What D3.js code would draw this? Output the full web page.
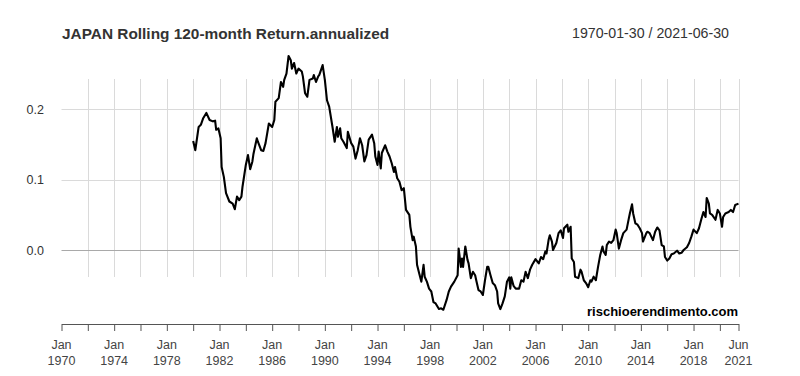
<!DOCTYPE html>
<html>
<head>
<meta charset="utf-8">
<script src="https://cdn.jsdelivr.net/npm/d3@7"></script>
<style>
  body { margin: 0; background: #fff; }
  svg { font-family: 'Liberation Sans', Arial, sans-serif; }
</style>
</head>
<body>
<div id="chart"></div>
<script>

let title = 'JAPAN Rolling 120-month Return.annualized';
let periodLabel = '1970-01-30 / 2021-06-30';
let watermark = 'rischioerendimento.com';

let dates = [
  '1980-01','1980-03','1980-06','1980-08','1980-10','1981-01','1981-04','1981-07','1981-09','1981-10','1981-12',
  '1982-02','1982-03','1982-05','1982-07','1982-10','1983-01','1983-03','1983-05','1983-07','1983-09','1983-10',
  '1984-01','1984-03','1984-05','1984-07','1984-08','1984-11','1984-12','1985-03','1985-05','1985-07','1985-10',
  '1986-01','1986-03','1986-04','1986-07','1986-09','1986-11','1986-12','1987-02','1987-04','1987-06','1987-07',
  '1987-09','1987-11','1988-01','1988-04','1988-05','1988-07','1988-09','1988-11','1989-02','1989-03','1989-05',
  '1989-07','1989-08','1989-11','1990-01','1990-03','1990-05','1990-08','1990-10','1990-12','1991-01','1991-03',
  '1991-04','1991-06','1991-09','1991-10','1992-01','1992-03','1992-05','1992-07','1992-09','1992-11','1993-01',
  '1993-03','1993-05','1993-08','1993-10','1993-11','1994-01','1994-02','1994-04','1994-05','1994-08','1994-10',
  '1994-12','1995-02','1995-04','1995-05','1995-07','1995-09','1995-11','1996-01','1996-03','1996-06','1996-07',
  '1996-09','1996-10','1996-12','1997-01','1997-03','1997-05','1997-07','1997-08','1997-10','1997-12','1998-02',
  '1998-04','1998-06','1998-09','1998-11','1999-01','1999-04','1999-06','1999-08','1999-11','2000-02','2000-03',
  '2000-05','2000-06','2000-07','2000-09','2000-11','2000-12','2001-02','2001-04','2001-06','2001-07','2001-09',
  '2001-11','2002-01','2002-03','2002-05','2002-06','2002-08','2002-10','2002-12','2003-02','2003-03','2003-05',
  '2003-07','2003-09','2003-11','2004-01','2004-02','2004-03','2004-05','2004-07','2004-10','2004-12','2005-02',
  '2005-04','2005-06','2005-08','2005-10','2006-01','2006-04','2006-06','2006-08','2006-10','2006-11','2007-01',
  '2007-02','2007-04','2007-05','2007-08','2007-10','2007-12','2008-02','2008-03','2008-06','2008-07','2008-09',
  '2008-10','2008-12','2009-01','2009-04','2009-06','2009-07','2009-09','2009-11','2010-01','2010-03','2010-04',
  '2010-06','2010-08','2010-10','2010-12','2011-02','2011-03','2011-05','2011-06','2011-08','2011-10','2011-12',
  '2012-02','2012-03','2012-05','2012-07','2012-09','2012-12','2013-02','2013-03','2013-05','2013-06','2013-08',
  '2013-10','2013-12','2014-02','2014-03','2014-06','2014-07','2014-09','2014-12','2015-02','2015-04','2015-06',
  '2015-08','2015-10','2015-11','2016-01','2016-03','2016-05','2016-07','2016-10','2016-12','2017-02','2017-04',
  '2017-07','2017-09','2017-11','2018-01','2018-04','2018-06','2018-08','2018-10','2018-12','2019-01','2019-03',
  '2019-04','2019-06','2019-09','2019-11','2020-01','2020-03','2020-04','2020-06','2020-09','2020-11','2021-01',
  '2021-03','2021-06'
];

let returns = [
  0.155, 0.142, 0.175, 0.178, 0.187, 0.195, 0.185, 0.183, 0.184, 0.171, 0.173,
  0.159, 0.118, 0.104, 0.081, 0.069, 0.066, 0.058, 0.076, 0.071, 0.076, 0.090,
  0.121, 0.135, 0.115, 0.126, 0.137, 0.159, 0.154, 0.142, 0.141, 0.152, 0.180,
  0.175, 0.185, 0.211, 0.216, 0.239, 0.232, 0.242, 0.251, 0.276, 0.270, 0.258,
  0.266, 0.251, 0.258, 0.254, 0.247, 0.223, 0.218, 0.242, 0.244, 0.249, 0.239,
  0.247, 0.249, 0.263, 0.242, 0.213, 0.204, 0.175, 0.154, 0.175, 0.161, 0.173,
  0.159, 0.154, 0.145, 0.168, 0.152, 0.147, 0.130, 0.142, 0.159, 0.149, 0.126,
  0.135, 0.157, 0.164, 0.152, 0.133, 0.121, 0.140, 0.116, 0.138, 0.149, 0.140,
  0.133, 0.123, 0.111, 0.118, 0.102, 0.097, 0.085, 0.088, 0.057, 0.050, 0.033,
  0.014, 0.019, 0.005, -0.021, -0.033, -0.045, -0.021, -0.038, -0.045, -0.055, -0.059,
  -0.074, -0.076, -0.084, -0.083, -0.085, -0.071, -0.059, -0.052, -0.045, -0.036, 0.002,
  -0.024, -0.012, -0.024, 0.005, -0.014, -0.019, -0.040, -0.031, -0.036, -0.043, -0.057,
  -0.059, -0.064, -0.043, -0.024, -0.024, -0.036, -0.047, -0.050, -0.059, -0.076, -0.084,
  -0.076, -0.066, -0.045, -0.039, -0.055, -0.039, -0.051, -0.055, -0.055, -0.043, -0.045,
  -0.031, -0.040, -0.028, -0.021, -0.013, -0.019, -0.010, -0.013, -0.002, -0.005, 0.015,
  0.021, 0.012, 0.000, 0.010, 0.024, 0.028, 0.017, 0.031, 0.036, 0.026, 0.033,
  -0.012, -0.017, -0.038, -0.040, -0.028, -0.031, -0.043, -0.047, -0.053, -0.043, -0.045,
  -0.038, -0.043, -0.024, -0.007, 0.005, -0.002, -0.007, 0.007, 0.012, 0.010, 0.014,
  0.029, 0.024, 0.002, 0.014, 0.024, 0.029, 0.045, 0.052, 0.065, 0.052, 0.038,
  0.036, 0.031, 0.024, 0.012, 0.024, 0.026, 0.024, 0.014, 0.026, 0.032, 0.028,
  0.007, 0.005, -0.010, -0.015, -0.012, -0.006, -0.005, -0.001, -0.005, -0.004, 0.000,
  0.004, 0.010, 0.019, 0.029, 0.024, 0.031, 0.043, 0.054, 0.047, 0.074, 0.066,
  0.052, 0.050, 0.043, 0.057, 0.052, 0.033, 0.047, 0.052, 0.054, 0.057, 0.054,
  0.064, 0.066
];

let yTicks = [0.0, 0.1, 0.2];
let gridYears = [1972, 1974, 1976, 1978, 1980, 1982, 1984, 1986, 1988, 1990, 1992, 1994, 1996,
  1998, 2000, 2002, 2004, 2006, 2008, 2010, 2012, 2014, 2016, 2018, 2020];
let labelYears = [1970, 1974, 1978, 1982, 1986, 1990, 1994, 1998, 2002, 2006, 2010, 2014, 2018];

let width = 800, height = 376;
let parseMonth = d3.timeParse('%Y-%m');
let data = dates.map(function(d, i) { return { date: parseMonth(d), value: returns[i] }; });

let start = new Date(1970, 0, 1);
let end = new Date(2021, 5, 1);

let x = d3.scaleTime().domain([start, end]).range([61.5, 738.5]);
let y = d3.scaleLinear().domain([0, 0.2]).range([250, 109.4]);

let svg = d3.select('#chart').append('svg')
  .attr('width', width)
  .attr('height', height);

// grid
let gridTop = 79, gridBottom = 277;
let vGrid = gridYears.map(function(yr) { return new Date(yr, 0, 1); }).concat([end]);
svg.append('g').selectAll('line')
  .data(vGrid).enter()
  .append('line')
  .attr('x1', function(d) { return Math.round(x(d)) + 0.5; })
  .attr('x2', function(d) { return Math.round(x(d)) + 0.5; })
  .attr('y1', gridTop)
  .attr('y2', gridBottom)
  .attr('stroke', '#dadada')
  .attr('stroke-width', 1);

svg.append('g').selectAll('line')
  .data(yTicks).enter()
  .append('line')
  .attr('x1', x(start))
  .attr('x2', x(end))
  .attr('y1', function(d) { return Math.round(y(d)) + 0.5; })
  .attr('y2', function(d) { return Math.round(y(d)) + 0.5; })
  .attr('stroke', function(d) { return d === 0 ? '#a9a9a9' : '#dadada'; })
  .attr('stroke-width', 1);

// y labels
svg.append('g').selectAll('text')
  .data(yTicks).enter()
  .append('text')
  .attr('x', 44)
  .attr('y', function(d) { return y(d) + 4.5; })
  .attr('text-anchor', 'end')
  .attr('font-size', 12.5)
  .attr('fill', '#333')
  .text(function(d) { return d3.format('.1f')(d); });

// series
let line = d3.line()
  .x(function(d) { return x(d.date); })
  .y(function(d) { return y(d.value); });

svg.append('path')
  .datum(data)
  .attr('fill', 'none')
  .attr('stroke', '#000')
  .attr('stroke-width', 2.1)
  .attr('stroke-linejoin', 'round')
  .attr('d', line);

// x axis
let tickDates = [start].concat(gridYears.map(function(yr) { return new Date(yr, 0, 1); })).concat([end]);
let xAxis = d3.axisBottom(x)
  .tickValues(tickDates)
  .tickSize(7)
  .tickSizeOuter(0)
  .tickFormat('');

let axisG = svg.append('g')
  .attr('transform', 'translate(0,324)')
  .call(xAxis);
axisG.select('.domain').attr('stroke', '#555');
axisG.selectAll('.tick line').attr('stroke', '#555');

let labelDates = labelYears.map(function(yr) { return new Date(yr, 0, 1); }).concat([end]);
let xLabels = svg.append('g').selectAll('text')
  .data(labelDates).enter()
  .append('text')
  .attr('text-anchor', 'middle')
  .attr('font-size', 12.5)
  .attr('fill', '#444');
xLabels.append('tspan')
  .attr('x', function(d) { return x(d); })
  .attr('y', 349)
  .text(d3.timeFormat('%b'));
xLabels.append('tspan')
  .attr('x', function(d) { return x(d); })
  .attr('y', 364.5)
  .text(d3.timeFormat('%Y'));

// texts
svg.append('text')
  .attr('x', 62)
  .attr('y', 39)
  .attr('font-size', 15.4)
  .attr('font-weight', 'bold')
  .attr('fill', '#333')
  .text(title);

svg.append('text')
  .attr('x', 729)
  .attr('y', 37.5)
  .attr('text-anchor', 'end')
  .attr('font-size', 14.2)
  .attr('fill', '#333')
  .text(periodLabel);

svg.append('text')
  .attr('x', 738)
  .attr('y', 316)
  .attr('text-anchor', 'end')
  .attr('font-size', 13)
  .attr('font-weight', 'bold')
  .attr('fill', '#000')
  .text(watermark);

</script>
</body>
</html>
